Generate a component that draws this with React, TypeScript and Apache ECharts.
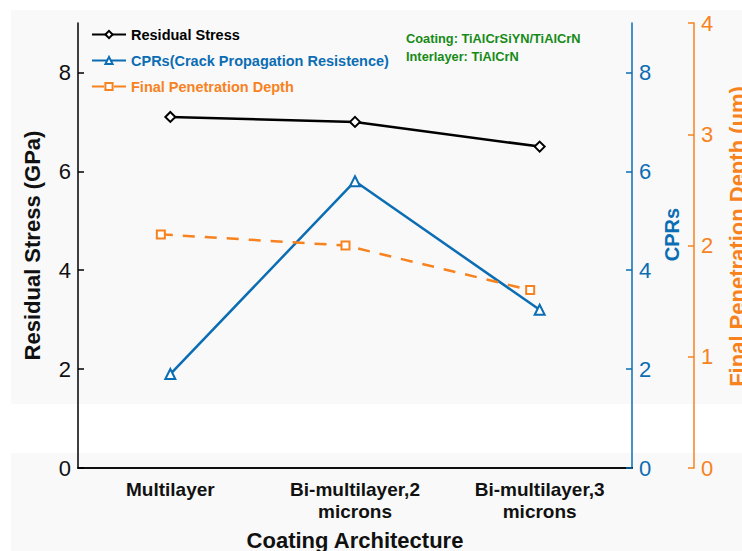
import React, { useEffect, useRef } from "react";
import * as echarts from "echarts";

const categories = ["Multilayer", "Bi-multilayer,2\nmicrons", "Bi-multilayer,3\nmicrons"];
const residualStress = [7.1, 7.0, 6.5];
const cprs = [1.9, 5.8, 3.2];
const penetrationDepth = [2.1, 2.0, 1.6];
const annotationLines = ["Coating: TiAlCrSiYN/TiAlCrN", "Interlayer: TiAlCrN"];

const BLACK = "#000000";
const BLUE = "#0b6db3";
const ORANGE = "#f7821e";
const GREEN = "#168a16";
const FONT = "Liberation Sans, Arial, sans-serif";

export default function App() {
  const ref = useRef<HTMLDivElement>(null);
  useEffect(() => {
    if (!ref.current) return;
    const chart = echarts.init(ref.current, null, { renderer: "svg" });
    const tickLabel = (color: string) => ({
      color,
      fontSize: 22,
      fontFamily: FONT,
      margin: 7,
    });
    const nameStyle = (color: string, size = 22) => ({
      color,
      fontSize: size,
      fontWeight: "bold" as const,
      fontFamily: FONT,
    });
    chart.setOption({
      animation: false,
      backgroundColor: "#ffffff",
      textStyle: { fontFamily: FONT },
      graphic: [
        { type: "rect", z: -100, silent: true, shape: { x: 11, y: 10, width: 731, height: 394 }, style: { fill: "#f9f9f9" } },
        { type: "rect", z: -100, silent: true, shape: { x: 11, y: 453, width: 731, height: 98 }, style: { fill: "#f9f9f9" } },
        {
          type: "text",
          left: 406,
          top: 29,
          style: {
            text: annotationLines.join("\n"),
            fill: GREEN,
            font: `bold 12.8px ${FONT}`,
            lineHeight: 18,
          },
        },
      ],
      legend: {
        orient: "vertical",
        left: 86,
        top: 22,
        itemWidth: 34,
        itemHeight: 9,
        itemGap: 11,
        textStyle: { fontSize: 14.5, fontWeight: "bold", fontFamily: FONT },
        data: [
          { name: "Residual Stress", textStyle: { color: BLACK } },
          { name: "CPRs(Crack Propagation Resistence)", textStyle: { color: BLUE } },
          { name: "Final Penetration Depth", textStyle: { color: ORANGE } },
        ],
      },
      grid: [
        { left: 78, right: 110, top: 23, bottom: 83, outerBoundsMode: "none", containLabel: false },
        { left: 68.5, right: 119.5, top: 23, bottom: 83, outerBoundsMode: "none", containLabel: false },
      ],
      xAxis: [
        {
          type: "category",
          gridIndex: 0,
          data: categories,
          axisLine: { lineStyle: { color: BLACK, width: 1.5 } },
          axisTick: { inside: true, alignWithLabel: true, length: 6, lineStyle: { color: BLACK, width: 1.5 } },
          axisLabel: { color: "#111", fontSize: 19, fontWeight: "bold", fontFamily: FONT, margin: 10, lineHeight: 22 },
          name: "Coating Architecture",
          nameLocation: "middle",
          nameGap: 61,
          nameTextStyle: nameStyle("#111"),
        },
        {
          type: "category",
          gridIndex: 0,
          position: "top",
          data: categories,
          axisLine: { lineStyle: { color: BLACK, width: 1.5 } },
          axisTick: { show: false },
          axisLabel: { show: false },
        },
        {
          type: "category",
          gridIndex: 1,
          data: categories,
          show: false,
        },
      ],
      yAxis: [
        {
          type: "value",
          gridIndex: 0,
          position: "left",
          min: 0,
          max: 9,
          interval: 2,
          splitLine: { show: false },
          axisLine: { show: true, lineStyle: { color: BLACK, width: 1.5 } },
          axisTick: { show: true, inside: true, length: 6, lineStyle: { color: BLACK, width: 1.5 } },
          axisLabel: { ...tickLabel("#111"), showMaxLabel: false },
          name: "Residual Stress (GPa)",
          nameLocation: "middle",
          nameRotate: 90,
          nameGap: 35,
          nameTextStyle: nameStyle("#111"),
        },
        {
          type: "value",
          gridIndex: 0,
          position: "right",
          min: 0,
          max: 9,
          interval: 2,
          splitLine: { show: false },
          axisLine: { show: true, lineStyle: { color: BLUE, width: 1.5 } },
          axisTick: { show: true, inside: true, length: 6, lineStyle: { color: BLUE, width: 1.5 } },
          axisLabel: { ...tickLabel(BLUE), showMaxLabel: false },
          name: "CPRs",
          nameLocation: "middle",
          nameRotate: 90,
          nameGap: 30,
          nameTextStyle: { ...nameStyle(BLUE, 20), padding: [0, 0, 0, 22] },
        },
        {
          type: "value",
          gridIndex: 1,
          position: "right",
          offset: 71.5,
          min: 0,
          max: 4,
          interval: 1,
          splitLine: { show: false },
          axisLine: { show: true, lineStyle: { color: ORANGE, width: 1.5 } },
          axisTick: { show: true, inside: true, length: 6, lineStyle: { color: ORANGE, width: 1.5 } },
          axisLabel: tickLabel(ORANGE),
          name: "Final Penetration Depth (μm)",
          nameLocation: "middle",
          nameRotate: 90,
          nameGap: 32,
          nameTextStyle: { ...nameStyle(ORANGE), padding: [0, 0, 0, 18] },
        },
      ],
      series: [
        {
          name: "Residual Stress",
          type: "line",
          xAxisIndex: 0,
          yAxisIndex: 0,
          data: residualStress,
          symbol: "diamond",
          symbolSize: 10,
          itemStyle: { color: "#ffffff", borderColor: BLACK, borderWidth: 2 },
          lineStyle: { color: BLACK, width: 2.5 },
          z: 4,
        },
        {
          name: "CPRs(Crack Propagation Resistence)",
          type: "line",
          xAxisIndex: 0,
          yAxisIndex: 1,
          data: cprs,
          symbol: "triangle",
          symbolSize: 10,
          itemStyle: { color: "#ffffff", borderColor: BLUE, borderWidth: 2 },
          lineStyle: { color: BLUE, width: 2.5 },
          z: 3,
        },
        {
          name: "Final Penetration Depth",
          type: "line",
          xAxisIndex: 2,
          yAxisIndex: 2,
          data: penetrationDepth,
          symbol: "rect",
          symbolSize: 8,
          itemStyle: { color: "#ffffff", borderColor: ORANGE, borderWidth: 2 },
          lineStyle: { color: ORANGE, width: 2.5, type: [12, 10] },
          z: 3,
        },
      ],
    });
    return () => chart.dispose();
  }, []);
  return (
    <div
      ref={ref}
      style={{ position: "absolute", left: 0, top: 0, width: 742, height: 551 }}
    />
  );
}
